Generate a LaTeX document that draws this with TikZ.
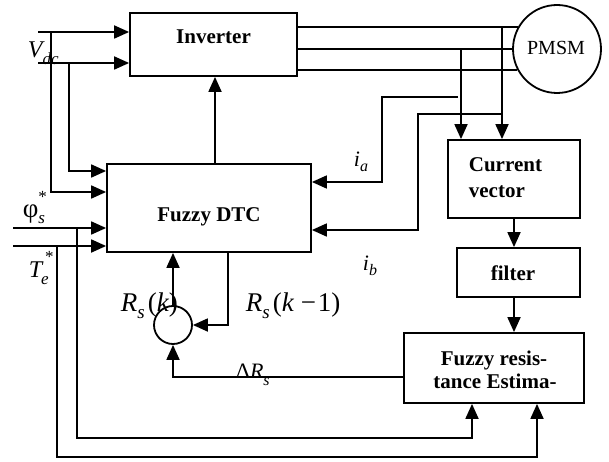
\documentclass[tikz,border=0pt]{standalone}
\usepackage{fontspec}
\setmainfont{Liberation Serif}
\usetikzlibrary{arrows.meta}
\begin{document}
\begin{tikzpicture}[x=1pt,y=-1pt,
  line width=1.8pt,
  box/.style={draw, line width=1.8pt, rectangle, inner sep=0pt},
  arr/.style={-{Triangle[length=15pt,width=13pt]}},
  btxt/.style={font=\fontsize{21}{23}\selectfont\bfseries, inner sep=0pt},
  mlab/.style={inner sep=0pt, anchor=base west}
]
\useasboundingbox[fill=white] (0,0) rectangle (609,462);

% blocks
\node[box, minimum width=167pt, minimum height=63pt] (inv) at (213.5,44.5) {};
\node[box, minimum width=204pt, minimum height=88pt] (dtc) at (209,208) {};
\node[box, minimum width=132pt, minimum height=78pt] (cv) at (514,179) {};
\node[box, minimum width=123pt, minimum height=49pt] (filt) at (518.5,272.5) {};
\node[box, minimum width=180pt, minimum height=70pt] (fre) at (494,368) {};
\node[draw, circle, minimum size=88pt, inner sep=0pt] (pmsm) at (557,49) {};
\node[draw, circle, minimum size=38pt, inner sep=0pt] (sum) at (173,325) {};

% block texts
\node[btxt, anchor=base] (tinv) at (213.5,44) {Inverter};
\node[btxt, anchor=base] (tdtc) at (209,221) {Fuzzy DTC};
\node[btxt, anchor=base west] (tcv1) at (468,172) {Current};
\node[btxt, anchor=base west] (tcv2) at (468,197) {vector};
\node[btxt, anchor=base] (tfilt) at (513,280) {filter};
\node[btxt, anchor=base] (tfre1) at (494,365) {Fuzzy resis-};
\node[btxt, anchor=base] (tfre2) at (495,388) {tance Estima-};
\node[font=\fontsize{20}{20}\selectfont, inner sep=0pt, anchor=base] (tpm) at (556,55) {PMSM};

% inverter to PMSM
\draw (pmsm.151.5 -| inv.east) -- (pmsm.151.5);
\draw (inv.east |- pmsm.west) -- (pmsm.west);
\draw (pmsm.208.5 -| inv.east) -- (pmsm.208.5);

% current taps
\coordinate (ta) at (461,49);
\coordinate (tb) at (502,28);
\draw[arr] (ta) -- (ta |- cv.north);
\draw[arr] (tb) -- (tb |- cv.north);

% ia, ib feedback
\coordinate (ia0) at (458,97);
\coordinate (iab) at (382,182);
\draw[arr] (ia0) -| (iab) -- (iab -| dtc.east);
\coordinate (ib0) at (502,114);
\coordinate (ibb) at (418,230);
\draw[arr] (ib0) -| (ibb) -- (ibb -| dtc.east);

% right chain
\draw[arr] (cv.south) -- (cv.south |- filt.north);
\draw[arr] (cv.south |- filt.south) -- (cv.south |- fre.north);

% resistance loop
\coordinate (dR) at (173,377);
\draw[arr] (dR -| fre.west) -- (dR) -- (sum.south);
\draw[arr] (sum.north) -- (sum.north |- dtc.south);
\coordinate (fb) at (228,325);
\draw[arr] (fb |- dtc.south) -- (fb) -- (sum.east);
\coordinate (up) at (215,0);
\draw[arr] (up |- dtc.north) -- (up |- inv.south);

% Vdc
\coordinate (v1) at (38,32);
\coordinate (v2) at (38,63);
\draw[arr] (v1) -- (v1 -| inv.west);
\draw[arr] (v2) -- (v2 -| inv.west);
\coordinate (v1d) at (51,192);
\draw[arr] (v1 -| v1d) -- (v1d) -- (v1d -| dtc.west);
\coordinate (v2d) at (69,171);
\draw[arr] (v2 -| v2d) -- (v2d) -- (v2d -| dtc.west);

% references
\coordinate (ph) at (13,228);
\draw[arr] (ph) -- (ph -| dtc.west);
\coordinate (phd) at (77,438);
\coordinate (phr) at (472,438);
\draw[arr] (ph -| phd) -- (phd) -- (phr) -- (phr |- fre.south);
\coordinate (te) at (13,246);
\draw[arr] (te) -- (te -| dtc.west);
\coordinate (ted) at (57,457);
\coordinate (ter) at (537,457);
\draw[arr] (te -| ted) -- (ted) -- (ter) -- (ter |- fre.south);

% labels
\node[mlab] (lvdc) at (27,58) {\fontsize{24}{24}\selectfont\itshape V\raisebox{-7pt}{\fontsize{17}{17}\selectfont dc}};
\node[mlab] (lphi) at (22,217) {\fontsize{27}{27}\selectfont φ\rlap{\raisebox{15pt}{\fontsize{17}{17}\selectfont *}}\raisebox{-6pt}{\fontsize{17}{17}\selectfont\itshape s}};
\node[mlab] (lte) at (28,277) {\fontsize{24}{24}\selectfont\itshape T\rlap{\kern3pt\raisebox{15pt}{\upshape\fontsize{17}{17}\selectfont *}}\kern-1pt\raisebox{-7pt}{\fontsize{17}{17}\selectfont e}};
\node[mlab] (lia) at (353,167) {\fontsize{22}{22}\selectfont\itshape i\raisebox{-5pt}{\fontsize{16}{16}\selectfont a}};
\node[mlab] (lib) at (362,270) {\fontsize{22}{22}\selectfont\itshape i\raisebox{-5pt}{\fontsize{16}{16}\selectfont b}};
\node[mlab] (lrk) at (120,311) {\fontsize{27}{27}\selectfont\itshape R\raisebox{-7pt}{\fontsize{19}{19}\selectfont s}\kern3pt\upshape(\itshape k\upshape)};
\node[mlab] (lrk1) at (245,311) {\fontsize{27}{27}\selectfont\itshape R\raisebox{-7pt}{\fontsize{19}{19}\selectfont s}\kern3pt\upshape(\itshape k\upshape\kern7pt−\kern2pt1)};
\node[mlab] (ldr) at (235,378) {\fontsize{22}{22}\selectfont Δ\itshape R\raisebox{-7pt}{\fontsize{16}{16}\selectfont s}};
\end{tikzpicture}
\end{document}
